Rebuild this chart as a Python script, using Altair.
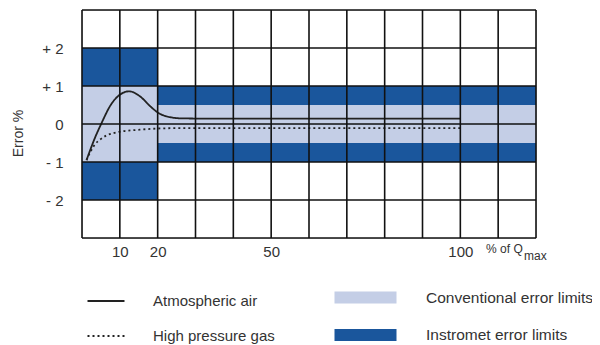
import altair as alt
import pandas as pd

# ---- data ----
# error-limit bands (x in % of Qmax, y in error %)
band_kind = ["Instromet error limits", "Instromet error limits", "Instromet error limits",
             "Conventional error limits", "Conventional error limits"]
band_x0 = [0, 0, 20, 0, 20]
band_x1 = [20, 20, 120, 20, 120]
band_y0 = [1, -2, -1, -1, -0.5]
band_y1 = [2, -1, 1, 1, 0.5]

# curves
air_x = [1.2, 2.3, 3.4, 5.2, 7.4, 10, 12.5, 15.3, 18, 20.2, 23.3, 26, 35, 50, 70, 100]
air_y = [-0.95, -0.65, -0.37, 0.03, 0.47, 0.77, 0.86, 0.73, 0.47, 0.29, 0.18, 0.15, 0.14, 0.14, 0.14, 0.14]
gas_x = [1.2, 2.1, 3.4, 4.8, 6.5, 8.3, 10.9, 15.3, 19.8, 25, 40, 60, 80, 100]
gas_y = [-0.95, -0.76, -0.54, -0.41, -0.3, -0.24, -0.19, -0.15, -0.12, -0.11, -0.11, -0.11, -0.11, -0.11]

# grid & ticks
x_grid = [0, 10, 20, 30, 40, 50, 60, 70, 80, 90, 100, 110, 120]
y_grid = [-3, -2, -1, 0, 1, 2, 3]
x_ticks = [10, 20, 50, 100]
y_ticks = [2, 1, 0, -1, -2]
y_tick_labels = ["+ 2", "+ 1", "0", "- 1", "- 2"]

series_names = ["Atmospheric air", "High pressure gas"]
band_names = ["Conventional error limits", "Instromet error limits"]

FONT = "Liberation Sans"
TXT = "#333333"
DARK = "#1A569C"
LIGHT = "#C4CEE6"

bands = pd.DataFrame({"kind": band_kind, "x0": band_x0, "x1": band_x1, "y0": band_y0, "y1": band_y1})
curves = pd.concat([
    pd.DataFrame({"series": series_names[0], "x": air_x, "y": air_y, "o": range(len(air_x))}),
    pd.DataFrame({"series": series_names[1], "x": gas_x, "y": gas_y, "o": range(len(gas_x))}),
])
xg = pd.DataFrame({"v": x_grid})
yg = pd.DataFrame({"v": y_grid})

xscale = alt.Scale(domain=[0, 120], nice=False, zero=False)
yscale = alt.Scale(domain=[-3, 3], nice=False, zero=False)

label_expr = ""
for v, l in zip(y_ticks, y_tick_labels):
    label_expr += f"datum.value == {v} ? '{l}' : "
label_expr += "''"

xaxis = alt.Axis(values=x_ticks, ticks=False, domain=False, grid=False, labelFontSize=15,
                 labelFont=FONT, labelColor=TXT, labelPadding=6, title=None, labelFlush=False)
yaxis = alt.Axis(values=y_ticks, ticks=False, domain=False, grid=False, labelFontSize=15,
                 labelFont=FONT, labelColor=TXT, labelPadding=19, labelExpr=label_expr,
                 title="Error %", titleFont=FONT, titleFontSize=14, titleFontWeight="normal",
                 titleColor=TXT, titlePadding=16, titleY=123)

rects = alt.Chart(bands).mark_rect(strokeWidth=0).encode(
    x=alt.X("x0:Q", scale=xscale, axis=xaxis),
    x2="x1:Q",
    y=alt.Y("y0:Q", scale=yscale, axis=yaxis),
    y2="y1:Q",
    fill=alt.Fill("kind:N", scale=alt.Scale(domain=band_names, range=[LIGHT, DARK]),
                  legend=alt.Legend(title=None, orient="none", legendX=268, legendY=272,
                                    symbolType="M-2,-0.39L2,-0.39L2,0.39L-2,0.39Z",
                                    symbolSize=961, symbolStrokeWidth=0, labelFontSize=15.5,
                                    labelFont=FONT, labelColor=TXT, labelOffset=45,
                                    labelLimit=400, rowPadding=13.5, padding=0)),
)

vrules = alt.Chart(xg).mark_rule(color="#111111", strokeWidth=1.6).encode(
    x=alt.X("v:Q", scale=xscale))
hrules = alt.Chart(yg).mark_rule(color="#111111", strokeWidth=1.6).encode(
    y=alt.Y("v:Q", scale=yscale))

lines = alt.Chart(curves).mark_line(color="#222222", strokeWidth=1.8, interpolate="monotone").encode(
    x=alt.X("x:Q", scale=xscale),
    y=alt.Y("y:Q", scale=yscale),
    order="o:Q",
    strokeDash=alt.StrokeDash("series:N", scale=alt.Scale(domain=series_names, range=[[1, 0], [2, 3]]),
                              legend=alt.Legend(title=None, orient="none", legendX=4, legendY=271,
                                                symbolType="stroke", symbolSize=1369,
                                                symbolStrokeWidth=2.2, symbolStrokeColor="#222222",
                                                labelFontSize=15, labelFont=FONT, labelColor=TXT,
                                                labelOffset=27, labelLimit=400, rowPadding=7,
                                                padding=0)),
)

qtext = alt.Chart(pd.DataFrame({"t": ["% of Q"]})).mark_text(
    align="left", baseline="middle", font=FONT, fontSize=12, color=TXT).encode(
    x=alt.datum(106.8, scale=xscale), y=alt.value(239), text="t:N")
subtext = alt.Chart(pd.DataFrame({"t": ["max"]})).mark_text(
    align="left", baseline="middle", font=FONT, fontSize=12, color=TXT, dx=38).encode(
    x=alt.datum(106.8, scale=xscale), y=alt.value(246), text="t:N")

chart = alt.layer(rects, lines, vrules, hrules, qtext, subtext).properties(
    width=454, height=228,
    autosize=alt.AutoSizeParams(type="none"),
    padding={"left": 74, "top": 2, "right": 56, "bottom": 116},
).configure_view(stroke=None).configure(font=FONT)

chart.save("out.html", embed_options={"renderer": "svg", "actions": False})
